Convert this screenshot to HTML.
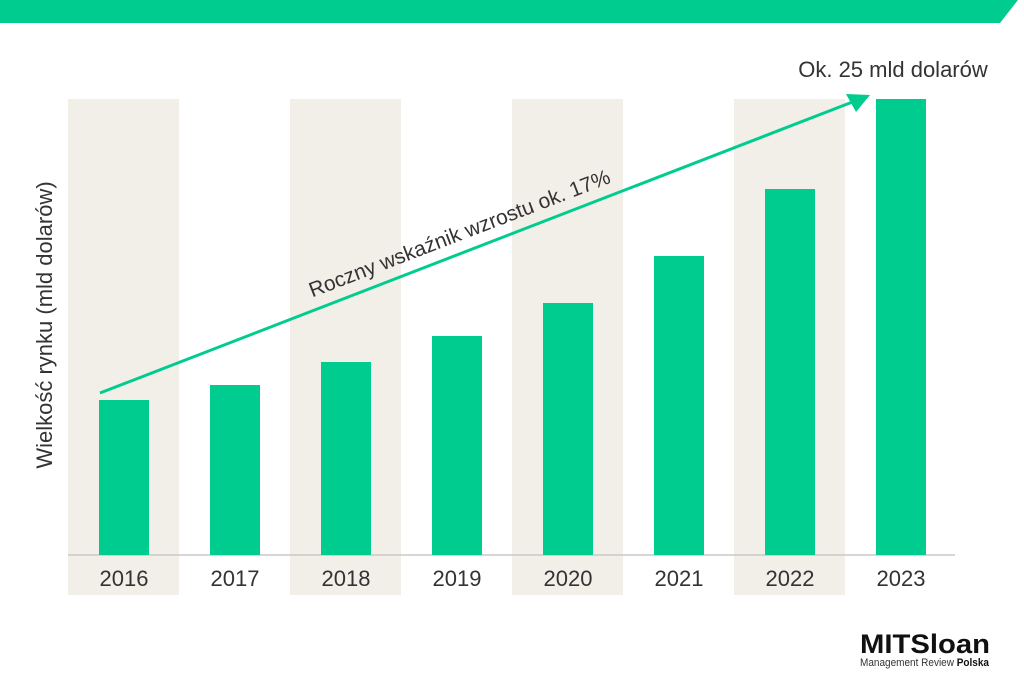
<!DOCTYPE html>
<html><head><meta charset="utf-8"><style>
body{margin:0;width:1024px;height:691px;background:#fff;overflow:hidden;font-family:"Liberation Sans",sans-serif}
</style></head><body>
<svg width="1024" height="691" xmlns="http://www.w3.org/2000/svg" font-family="Liberation Sans, DejaVu Sans, sans-serif">
<polygon points="0,0 1024,0 1018,0 1000,23 0,23" fill="#00cc8f"/>
<g fill="#f1efe8">
<rect x="68" y="99" width="111" height="496"/>
<rect x="290" y="99" width="111" height="496"/>
<rect x="512" y="99" width="111" height="496"/>
<rect x="734" y="99" width="111" height="496"/>
</g>
<line x1="68" y1="555" x2="955" y2="555" stroke="#c8c8c8" stroke-width="1.5"/>
<g fill="#00cc8f">
<rect x="99" y="400" width="50" height="155"/>
<rect x="210" y="385" width="50" height="170"/>
<rect x="321" y="362" width="50" height="193"/>
<rect x="432" y="336" width="50" height="219"/>
<rect x="543" y="303" width="50" height="252"/>
<rect x="654" y="256" width="50" height="299"/>
<rect x="765" y="189" width="50" height="366"/>
<rect x="876" y="99" width="50" height="456"/>
</g>
<g font-size="22" fill="#333" text-anchor="middle">
<text x="124" y="586">2016</text><text x="235" y="586">2017</text>
<text x="346" y="586">2018</text><text x="457" y="586">2019</text>
<text x="568" y="586">2020</text><text x="679" y="586">2021</text>
<text x="790" y="586">2022</text><text x="901" y="586">2023</text>
</g>
<line x1="100" y1="393" x2="855" y2="101" stroke="#00cc8f" stroke-width="3"/>
<polygon points="870,95 846,94 856,112" fill="#00cc8f"/>
<text transform="translate(462,240) rotate(-21)" font-size="21" fill="#333" text-anchor="middle">Roczny wskaźnik wzrostu ok. 17%</text>
<text transform="translate(52,325) rotate(-90)" font-size="22" fill="#333" text-anchor="middle">Wielkość rynku (mld dolarów)</text>
<text x="893" y="77" font-size="22" fill="#333" text-anchor="middle">Ok. 25 mld dolarów</text>
<text x="860" y="653" font-size="27" font-weight="bold" fill="#111" textLength="130" lengthAdjust="spacingAndGlyphs">MITSloan</text>
<text x="860" y="666" font-size="11" fill="#333" textLength="129" lengthAdjust="spacingAndGlyphs">Management Review <tspan font-weight="bold" fill="#111">Polska</tspan></text>
</svg>
</body></html>
